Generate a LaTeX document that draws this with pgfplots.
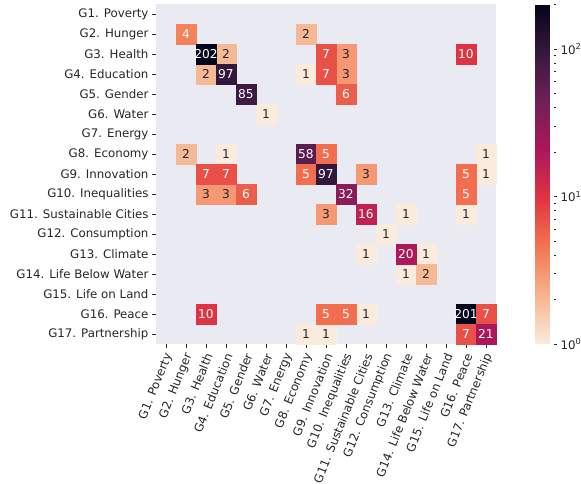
\documentclass[border=0pt]{standalone}
\usepackage{fontspec}
\setmainfont{DejaVu Sans}
\usepackage{pgfplots}
\pgfplotsset{compat=1.18}
\usepackage{pgfplotstable}
\definecolor{bg}{HTML}{EAEAF2}
\definecolor{txt}{HTML}{262626}
\pgfplotsset{colormap={rocketr}{rgb255=(250,235,221) rgb255=(246,180,143) rgb255=(243,118,81) rgb255=(225,51,66) rgb255=(173,23,89) rgb255=(112,31,87) rgb255=(53,25,62) rgb255=(3,5,26)}}

% cells with dark annotation text (value <= 3)
\pgfplotstableread{
x y v
7 1 2
3 2 2
9 2 3
2 3 2
7 3 1
9 3 3
5 5 1
1 7 2
3 7 1
16 7 1
10 8 3
16 8 1
2 9 3
3 9 3
8 10 3
12 10 1
15 10 1
11 11 1
10 12 1
13 12 1
12 13 1
13 13 2
10 15 1
7 16 1
8 16 1
}\lightcells

% cells with white annotation text (value >= 4)
\pgfplotstableread{
x y v
1 1 4
2 2 202
8 2 7
15 2 10
3 3 97
8 3 7
4 4 85
9 4 6
7 7 58
8 7 5
2 8 7
3 8 7
7 8 5
8 8 97
15 8 5
4 9 6
9 9 32
15 9 5
10 10 16
12 12 20
2 15 10
8 15 5
9 15 5
15 15 201
16 15 7
15 16 7
16 16 21
}\darkcells

\pgfplotsset{
  cellmarks/.style={scatter, only marks, mark=square*, mark size=10pt,
    point meta=explicit,
    scatter/use mapped color={draw=mapped color, fill=mapped color}},
  celltext/.style={only marks, mark=*, mark size=0pt,
    mark options={draw=none, fill=none},
    visualization depends on={\thisrow{v}\as\cellval},
    nodes near coords={\pgfmathprintnumber[assume math mode=true]{\cellval}},
    every node near coord/.append style={font=\fontsize{12.2}{13}\selectfont, text=#1, anchor=center}},
}

\begin{document}
\begin{tikzpicture}
\begin{axis}[
  at={(0,0)}, anchor=south west,
  scale only axis, width=340pt, height=340pt,
  xmin=-0.5, xmax=16.5, ymin=-0.5, ymax=16.5, y dir=reverse,
  enlargelimits=false,
  /pgf/number format/assume math mode=true,
  axis background/.style={fill=bg},
  axis line style={draw=none},
  xtick={0,...,16}, ytick={0,...,16},
  xticklabels={G1. Poverty,G2. Hunger,G3. Health,G4. Education,G5. Gender,G6. Water,G7. Energy,G8. Economy,G9. Innovation,G10. Inequalities,G11. Sustainable Cities,G12. Consumption,G13. Climate,G14. Life Below Water,G15. Life on Land,G16. Peace,G17. Partnership},
  yticklabels={G1. Poverty,G2. Hunger,G3. Health,G4. Education,G5. Gender,G6. Water,G7. Energy,G8. Economy,G9. Innovation,G10. Inequalities,G11. Sustainable Cities,G12. Consumption,G13. Climate,G14. Life Below Water,G15. Life on Land,G16. Peace,G17. Partnership},
  tick align=outside, major tick length=4pt,
  tick style={color=txt, line width=0.8pt},
  xtick pos=bottom, ytick pos=left,
  ticklabel style={font=\fontsize{11.8}{13}\selectfont, text=txt},
  xticklabel style={rotate=68, anchor=east, yshift=-5pt, xshift=-1pt},
  colormap name=rocketr,
  point meta min=0, point meta max=5.308268,
  colorbar,
  colorbar style={
    at={(parent axis.south east)}, anchor=south west, xshift=31pt,
    scale only axis, width=18pt, height=340pt,
    axis line style={draw=none},
    ytick={0,2.302585,4.605170},
    yticklabels={10\textsuperscript{0},10\textsuperscript{1},10\textsuperscript{2}},
    minor ytick={0.693147,1.098612,1.386294,1.609438,1.791759,1.945910,2.079442,2.197225,2.995732,3.401197,3.688879,3.912023,4.094345,4.248495,4.382027,4.499810,5.298317},
    ytick pos=right, yticklabel pos=right,
    tick align=outside, major tick length=3.5pt, minor tick length=2pt,
    tick style={color=txt, line width=0.8pt},
    yticklabel style={font=\fontsize{11.8}{13}\selectfont, text=txt},
  },
]
\addplot[cellmarks] table[x=x, y=y, meta expr={ln(\thisrow{v})}] {\lightcells};
\addplot[cellmarks] table[x=x, y=y, meta expr={ln(\thisrow{v})}] {\darkcells};
\addplot[celltext=txt] table[x=x, y=y] {\lightcells};
\addplot[celltext=white] table[x=x, y=y] {\darkcells};
\end{axis}
\pgfresetboundingbox
\path[use as bounding box] (-156pt,-140pt) rectangle (425pt,344pt);
\end{tikzpicture}
\end{document}
